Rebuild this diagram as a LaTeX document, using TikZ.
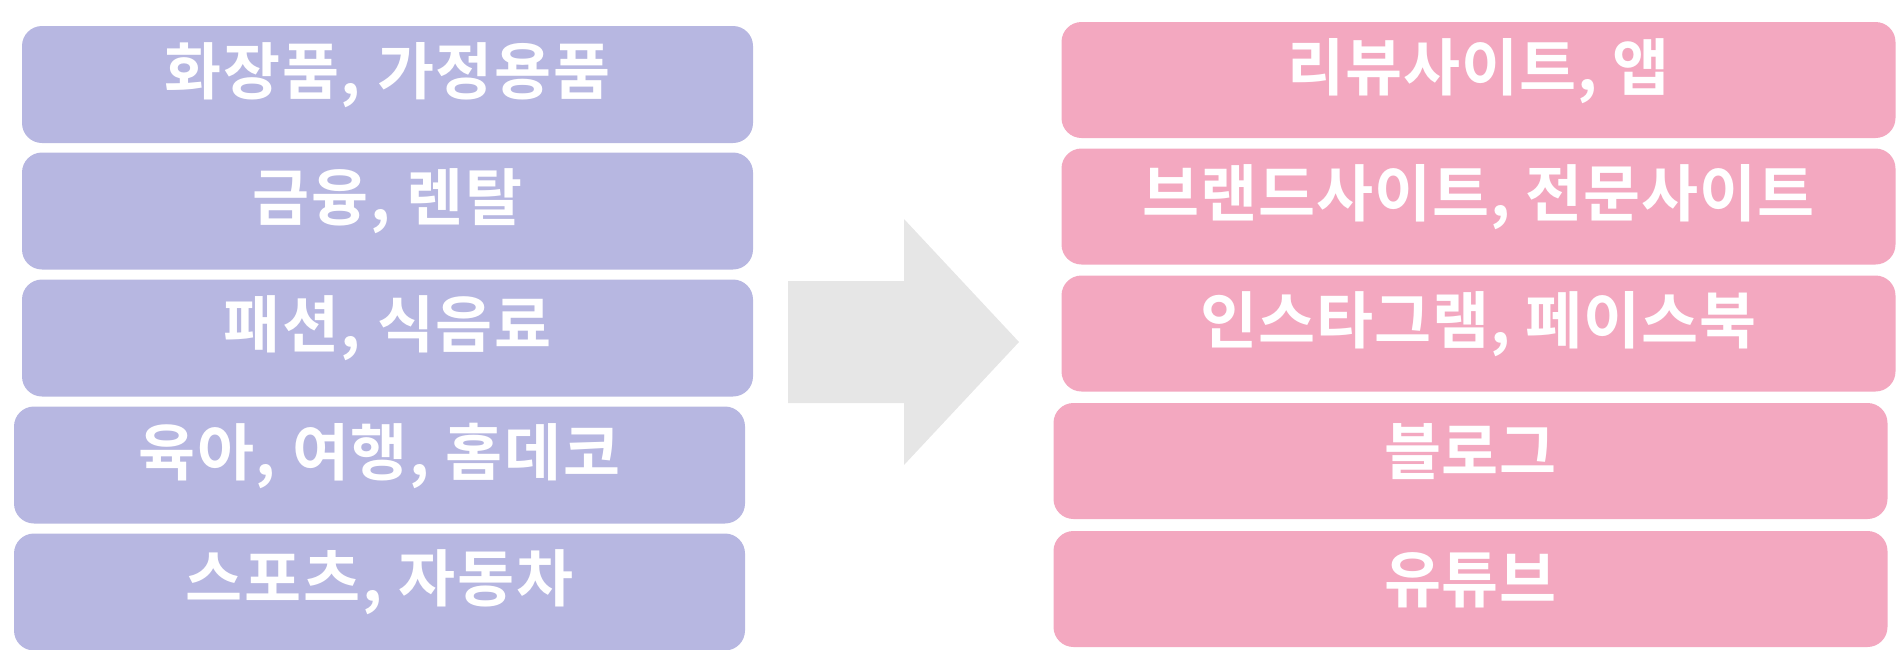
\documentclass[tikz,border=0pt]{standalone}
\usepackage{fontspec}
\newfontfamily\kofont{Noto Sans CJK KR Bold}[LetterSpace=3]
\newfontfamily\kochanfont{Noto Sans CJK KR Bold}[LetterSpace=1.5]
\usetikzlibrary{positioning}
\usepackage{xcolor}
\definecolor{catpurple}{HTML}{B7B7E1}
\definecolor{chanpink}{HTML}{F3A8C0}
\definecolor{arrowgray}{HTML}{E6E6E6}

\tikzset{
  catbox/.style={fill=catpurple, rounded corners=20pt, minimum width=731pt, minimum height=117pt, inner sep=0pt},
  chanbox/.style={fill=chanpink, rounded corners=20pt, minimum width=834pt, minimum height=116pt, inner sep=0pt},
  cattext/.style={text=white, inner sep=0pt, font=\kofont\fontsize{62}{64}\selectfont},
  chantext/.style={text=white, inner sep=0pt, font=\kochanfont\fontsize{62}{64}\selectfont}
}

\begin{document}
\begin{tikzpicture}[x=1pt, y=-1pt]
\useasboundingbox (0,0) rectangle (1896,649);

% left: categories
\foreach \n/\x/\y/\t in {1/387.5/84.5/{화장품, 가정용품}, 2/387.5/211/{금융, 렌탈}, 3/387.5/338/{패션, 식음료}, 4/379.5/465/{육아, 여행, 홈데코}, 5/379.5/592/{스포츠, 자동차}}
{
\node[catbox] (cat\n) at (\x,\y) {};
\node[cattext] (cattext\n) at ([yshift=9.5pt]cat\n.center) {\t};
}

% right: channels
\foreach \n/\x/\y/\t in {1/1478.5/80/{리뷰사이트, 앱}, 2/1478.5/206.5/{브랜드사이트, 전문사이트}, 3/1478.5/333.5/{인스타그램, 페이스북}, 4/1470.5/461/{블로그}, 5/1470.5/589/{유튜브}}
{
\node[chanbox] (chan\n) at (\x,\y) {};
\node[chantext] (chantext\n) at ([yshift=9pt]chan\n.center) {\t};
}

% big arrow
\fill[arrowgray] (788,281)--(904,281)--(904,219)--(1019,342)--(904,465)--(904,403)--(788,403)--cycle;

\end{tikzpicture}
\end{document}
